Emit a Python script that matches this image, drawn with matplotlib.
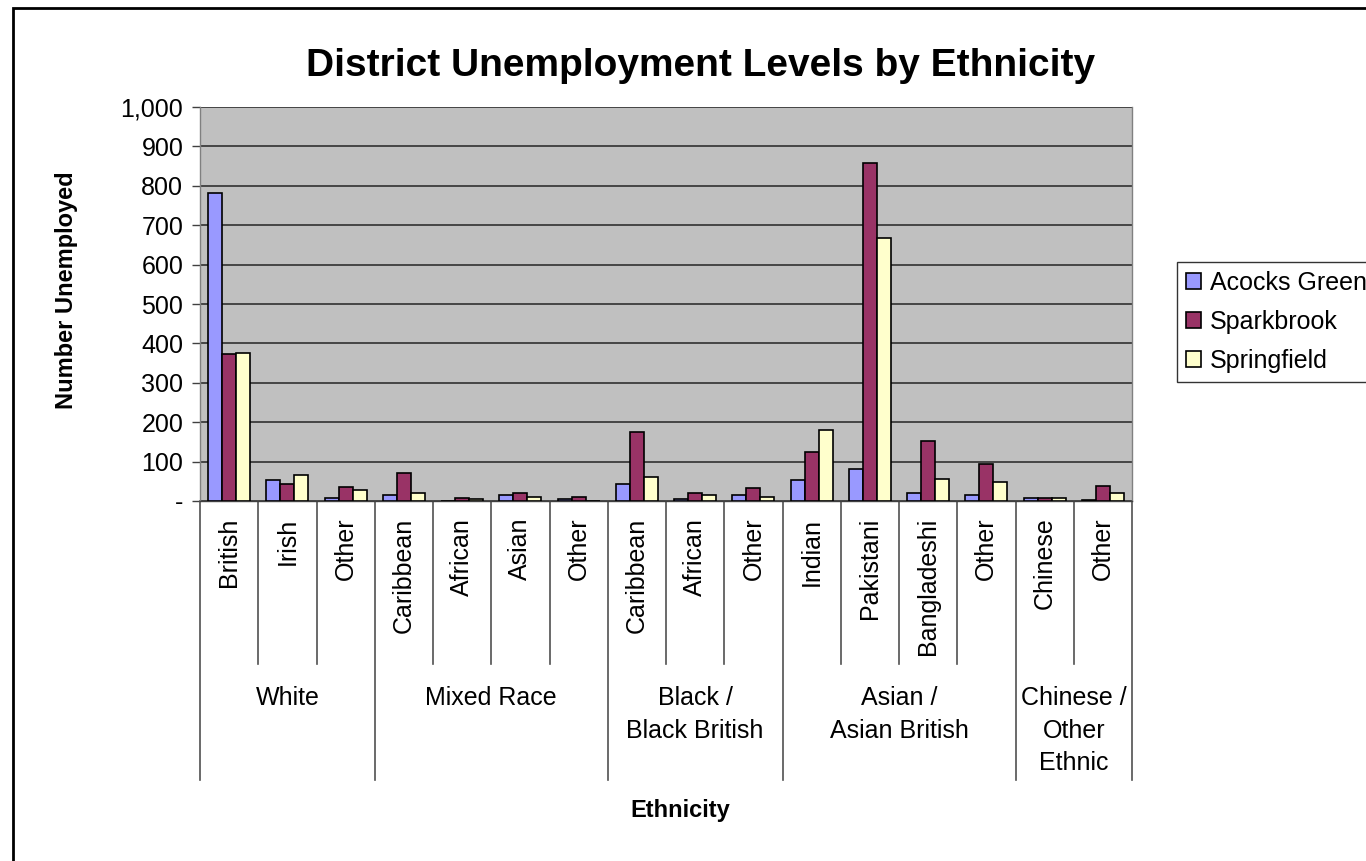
import matplotlib
matplotlib.use("Agg")
import matplotlib.pyplot as plt
import matplotlib.transforms as mtransforms
from matplotlib.patches import Rectangle
import numpy as np

plt.rcParams['font.family'] = ['Liberation Sans', 'DejaVu Sans']

categories = ["British", "Irish", "Other",
              "Caribbean", "African", "Asian", "Other",
              "Caribbean", "African", "Other",
              "Indian", "Pakistani", "Bangladeshi", "Other",
              "Chinese", "Other"]
groups = ["White", "Mixed Race", "Black /\nBlack British",
          "Asian /\nAsian British", "Chinese /\nOther\nEthnic"]
group_sizes = [3, 4, 3, 4, 2]

series_names = ["Acocks Green", "Sparkbrook", "Springfield"]
acocks_green = [782, 53, 8, 15, 1, 16, 4, 44, 4, 15, 54, 82, 20, 15, 8, 3]
sparkbrook = [372, 44, 36, 70, 8, 20, 11, 174, 20, 32, 124, 857, 153, 95, 8, 37]
springfield = [375, 65, 29, 20, 4, 11, 1, 61, 15, 9, 181, 667, 57, 49, 8, 20]

yticks = [0, 100, 200, 300, 400, 500, 600, 700, 800, 900, 1000]
ytick_labels = ["-", "100", "200", "300", "400", "500", "600", "700", "800", "900", "1,000"]

colors = ["#9999FF", "#993366", "#FFFFCC"]

W, H = 1366, 861
fig = plt.figure(figsize=(W / 100, H / 100), dpi=100)
fig.patch.set_facecolor("white")

ax = fig.add_axes([200 / W, 1 - 501 / H, (1132 - 200) / W, (501 - 107) / H])
ax.set_facecolor("#C0C0C0")

x = np.arange(len(categories))
bw = 0.24
for i, (vals, col, name) in enumerate(zip([acocks_green, sparkbrook, springfield], colors, series_names)):
    ax.bar(x + (i - 1) * bw, vals, width=bw, color=col, edgecolor="black",
           linewidth=1.2, label=name, zorder=3)

ax.set_xlim(-0.5, len(categories) - 0.5)
ax.set_ylim(0, 1000)
ax.set_yticks(yticks)
ax.set_yticklabels(ytick_labels, fontsize=18)
ax.yaxis.grid(True, color="#303030", linewidth=1.2, zorder=1)
ax.set_axisbelow(True)
ax.tick_params(axis="y", length=6, width=1, color="#404040", pad=6)

ax.set_xticks(x)
ax.set_xticklabels(categories, rotation=90, fontsize=18, va="top", ha="center")
ax.tick_params(axis="x", length=0, pad=12)

for s in ["left", "bottom", "right", "top"]:
    ax.spines[s].set_color("#808080")
    ax.spines[s].set_linewidth(1)
ax.spines["top"].set_visible(False)
ax.spines["bottom"].set_color("#404040")

# category separators and group separators below the axis
trans = mtransforms.blended_transform_factory(ax.transData, ax.transAxes)
short_y = (501 - 664) / 394
long_y = (501 - 780) / 394
bounds = np.cumsum([0] + group_sizes)
group_edges = set(bounds.tolist())
for k in range(len(categories) + 1):
    yb = long_y if k in group_edges else short_y
    ax.plot([k - 0.5, k - 0.5], [0, yb], transform=trans, color="#505050",
            linewidth=1.2, clip_on=False)

label_top = (501 - 686) / 394
for g, (a, b) in zip(groups, zip(bounds[:-1], bounds[1:])):
    cx = (a + b - 1) / 2
    ax.text(cx, label_top, g, transform=trans, ha="center", va="top",
            fontsize=18, linespacing=1.45, multialignment="center")

fig.text(701 / W, 1 - 66 / H, "District Unemployment Levels by Ethnicity",
         ha="center", va="center", fontsize=28, fontweight="bold")
fig.text(67 / W, 1 - 290 / H, "Number Unemployed", rotation=90,
         ha="center", va="center", fontsize=17, fontweight="bold")
fig.text(680 / W, 1 - 810 / H, "Ethnicity", ha="center", va="center",
         fontsize=17, fontweight="bold")

leg = fig.legend(loc="upper left", bbox_to_anchor=(1177 / W, 1 - 262 / H),
                 fontsize=18, frameon=True, fancybox=False, edgecolor="black",
                 handlelength=0.6, handleheight=0.6, handletextpad=0.35,
                 labelspacing=0.6, borderpad=0.35, borderaxespad=0)
leg.get_frame().set_linewidth(1)

fig.add_artist(Rectangle((13 / W, -0.05), 1.2, 1 - 8 / H + 0.05,
                         transform=fig.transFigure, fill=False,
                         edgecolor="black", linewidth=2, clip_on=False))

fig.savefig("out.png", dpi=100)
